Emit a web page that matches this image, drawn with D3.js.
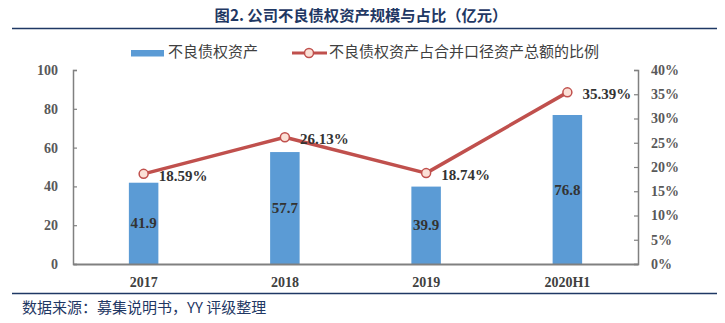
<!DOCTYPE html>
<html><head><meta charset="utf-8">
<script src="https://cdn.jsdelivr.net/npm/d3@7"></script>
<style>
body{margin:0;background:#fff;}
svg{display:block;}
</style></head>
<body>
<svg id="chart" width="725" height="323"></svg>
<script>
const categories = ["2017", "2018", "2019", "2020H1"];
const assetValues = [41.9, 57.7, 39.9, 76.8];
const ratioValues = [18.59, 26.13, 18.74, 35.39];
const leftTicks = [0, 20, 40, 60, 80, 100];
const rightTicks = [0, 5, 10, 15, 20, 25, 30, 35, 40];
const titleText = "图2. 公司不良债权资产规模与占比（亿元）";
const legendLabels = ["不良债权资产", "不良债权资产占合并口径资产总额的比例"];
const sourceText = "数据来源：募集说明书，YY 评级整理";

const svg = d3.select("#chart");
const navy = "#1f3864";
const cjk = "'Noto Sans CJK SC','Noto Sans',sans-serif";
const serif = "'Liberation Serif','Times New Roman',serif";
const barColor = "#5b9bd5";
const lineColor = "#c0504d";

const plot = {left: 73, right: 638, top: 70, bottom: 264};

// title
svg.append("text").attr("x", 361).attr("y", 20.5).attr("text-anchor", "middle")
  .attr("font-family", cjk).attr("font-weight", "bold").attr("font-size", 15.3)
  .attr("fill", navy).text(titleText);
svg.append("line").attr("x1", 12).attr("x2", 717).attr("y1", 28.5).attr("y2", 28.5)
  .attr("stroke", navy).attr("stroke-width", 1.5);

// legend
svg.append("rect").attr("x", 131).attr("y", 50).attr("width", 33).attr("height", 6.5).attr("fill", barColor);
svg.append("text").attr("x", 168).attr("y", 57).attr("font-family", cjk).attr("font-size", 15)
  .attr("fill", "#404040").text(legendLabels[0]);
svg.append("line").attr("x1", 292).attr("x2", 327).attr("y1", 53).attr("y2", 53)
  .attr("stroke", lineColor).attr("stroke-width", 3);
svg.append("circle").attr("cx", 309).attr("cy", 53).attr("r", 4.5)
  .attr("fill", "#fbe0d6").attr("stroke", lineColor).attr("stroke-width", 1.5);
svg.append("text").attr("x", 329).attr("y", 57).attr("font-family", cjk).attr("font-size", 15)
  .attr("fill", "#404040").text(legendLabels[1]);

// scales
const x = d3.scaleBand().domain(categories).range([plot.left, plot.right]).paddingInner(0).paddingOuter(0);
const yL = d3.scaleLinear().domain([0, 100]).range([plot.bottom, plot.top]);
const yR = d3.scaleLinear().domain([0, 40]).range([plot.bottom, plot.top]);
const barW = 29.5;

// bars
svg.append("g").selectAll("rect").data(categories).join("rect")
  .attr("x", (d) => x(d) + x.bandwidth() / 2 - barW / 2)
  .attr("y", (d, i) => yL(assetValues[i]))
  .attr("width", barW)
  .attr("height", (d, i) => yL(0) - yL(assetValues[i]))
  .attr("fill", barColor);

// bar labels
svg.append("g").selectAll("text").data(categories).join("text")
  .attr("x", (d) => x(d) + x.bandwidth() / 2)
  .attr("y", (d, i) => (yL(assetValues[i]) + yL(0)) / 2 + 5)
  .attr("text-anchor", "middle").attr("font-family", serif).attr("font-weight", "bold")
  .attr("font-size", 15).attr("fill", "#333")
  .text((d, i) => assetValues[i].toFixed(1));

// axes
const axisColor = "#808080";
const gL = svg.append("g").attr("transform", `translate(${plot.left},0)`)
  .call(d3.axisLeft(yL).tickValues(leftTicks).tickSizeInner(-4).tickSizeOuter(-4).tickPadding(15));
const gR = svg.append("g").attr("transform", `translate(${plot.right},0)`)
  .call(d3.axisRight(yR).tickValues(rightTicks).tickSizeInner(-4).tickSizeOuter(-4).tickPadding(13)
    .tickFormat((d) => d + "%"));
[gL, gR].forEach((g) => {
  g.select(".domain").attr("stroke", axisColor).attr("stroke-width", 1.5);
  g.selectAll(".tick line").attr("stroke", axisColor).attr("stroke-width", 1.2);
  g.selectAll(".tick text").attr("font-family", serif).attr("font-weight", "bold")
    .attr("font-size", 14).attr("fill", "#595959");
});
const gX = svg.append("g").attr("transform", `translate(0,${plot.bottom})`)
  .call(d3.axisBottom(x).tickSize(0).tickPadding(13));
gX.select(".domain").attr("stroke", axisColor).attr("stroke-width", 2);
gX.selectAll(".tick text").attr("font-family", serif).attr("font-weight", "bold")
  .attr("font-size", 14).attr("fill", "#404040");

// line
const line = d3.line().x((d, i) => x(categories[i]) + x.bandwidth() / 2).y((d) => yR(d));
svg.append("path").datum(ratioValues).attr("d", line).attr("fill", "none")
  .attr("stroke", lineColor).attr("stroke-width", 3.5).attr("stroke-linejoin", "round");
svg.append("g").selectAll("circle").data(ratioValues).join("circle")
  .attr("cx", (d, i) => x(categories[i]) + x.bandwidth() / 2)
  .attr("cy", (d) => yR(d)).attr("r", 4.5)
  .attr("fill", "#fbe0d6").attr("stroke", lineColor).attr("stroke-width", 1.5);
svg.append("g").selectAll("text").data(ratioValues).join("text")
  .attr("x", (d, i) => x(categories[i]) + x.bandwidth() / 2 + 15)
  .attr("y", (d) => yR(d) + 7)
  .attr("font-family", serif).attr("font-weight", "bold").attr("font-size", 15).attr("fill", "#333")
  .text((d) => d.toFixed(2) + "%");

// footer
svg.append("line").attr("x1", 12).attr("x2", 717).attr("y1", 293.5).attr("y2", 293.5)
  .attr("stroke", navy).attr("stroke-width", 1.5);
svg.append("text").attr("x", 22).attr("y", 313).attr("font-family", cjk).attr("font-size", 15)
  .attr("fill", navy).text(sourceText);
</script>
</body></html>
